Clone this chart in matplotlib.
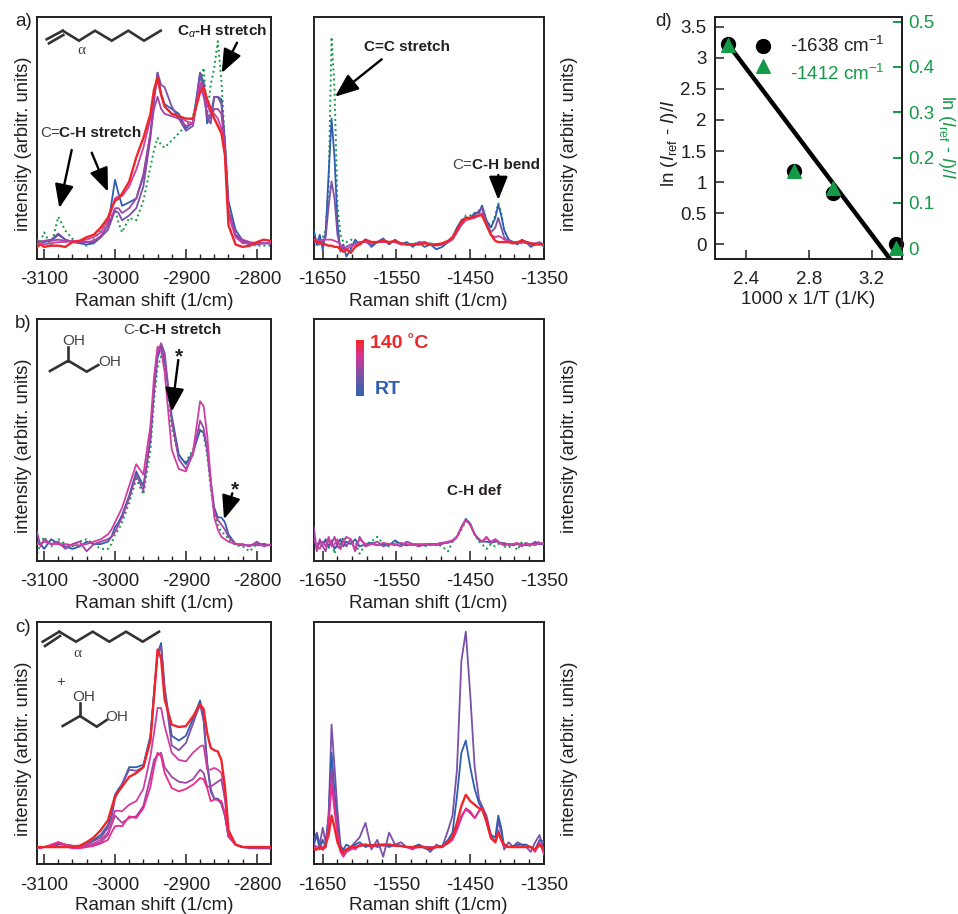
import matplotlib
matplotlib.use("Agg")
import matplotlib.pyplot as plt
from matplotlib.lines import Line2D
from matplotlib.patches import FancyArrowPatch, Rectangle

W, H = 958, 914
plt.rcParams["font.family"] = ["Liberation Sans", "DejaVu Sans"]
plt.rcParams["axes.unicode_minus"] = False
plt.rcParams["mathtext.fontset"] = "custom"
plt.rcParams["mathtext.rm"] = "Liberation Sans"
plt.rcParams["mathtext.it"] = "Liberation Sans:italic"
plt.rcParams["mathtext.bf"] = "Liberation Sans:bold"

# ── spectra (intensity = % of panel height) ──────────────────────────────────
ch_x = [-3110, -3105, -3100, -3090, -3080, -3070, -3060, -3050, -3040, -3030, -3020, -3010, -3005, -3000, -2995,
        -2990, -2980, -2970, -2960, -2950, -2945, -2940, -2935, -2930, -2920, -2910, -2900, -2890, -2880, -2875,
        -2870, -2865, -2860, -2855, -2850, -2845, -2840, -2830, -2820, -2810, -2800, -2790, -2780]

a_l_green = [5.5, 7, 11, 5.5, 17.5, 11.7, 8.3, 7, 5.5, 8, 11.7, 14.5, 18, 20.7, 15, 11, 17, 16, 24, 38, 45, 50, 47, 46,
             49, 52, 55, 59, 72, 79, 60, 72, 79, 90, 74, 48, 21, 10, 7.6, 6, 5.5, 5.5, 5.5]
a_l_blue = [6.5, 7, 7, 7.5, 10, 8, 7, 6.5, 6, 6.5, 9, 14, 23, 32.7, 27, 22, 23.4, 25, 34, 52, 66, 77, 68, 64,
            62, 60, 54, 56.5, 77, 73, 56, 60, 67, 67, 66, 49, 24, 12, 7.6, 6.5, 6.5, 6.5, 6.5]
a_l_purple = [8, 7, 7.5, 8, 10.5, 8, 7, 7.5, 7, 7, 9, 12, 16, 20, 19, 16, 18, 21, 30, 50, 65, 77, 72, 71,
              63, 58, 53, 55, 77, 70, 58, 56, 67, 67, 64, 47, 20, 10, 7, 6, 6, 6.5, 6.5]
a_l_violet = [7.5, 7, 7.5, 7.5, 8, 7.5, 7, 7, 7, 7.5, 9.5, 14, 17, 21, 21, 19, 21, 25, 35, 52, 62, 67, 62, 60,
              59, 58, 55, 56, 72, 67, 60, 58, 62, 62, 60, 46, 20, 10, 8, 7, 6.5, 6.5, 6.5]
a_l_magenta = [6, 7, 6, 6.5, 7, 7, 7.5, 7.5, 8, 9, 11, 16, 20, 25, 26, 26, 30, 37, 46, 58, 68, 74, 68, 63,
               60, 59, 57, 56, 73, 70, 64, 60, 60, 58, 54, 44, 18, 9, 6.5, 6.5, 6.5, 6.5, 6.5]
a_l_red = [5, 6, 5, 5.5, 5.5, 5, 7, 7.5, 9, 10, 13, 17, 21, 24, 25, 27, 32, 42, 50, 60, 70, 75, 68, 63,
           60, 59, 58, 58, 69, 71, 66, 62, 58, 55, 52, 43, 14, 6, 5, 5.5, 7, 8, 7.5]

b_l_green = [3, 7, 10, 6, 9, 7, 6, 8, 9, 7, 5, 5, 7, 11, 13, 16, 24, 34, 27.5, 46, 66, 80, 84.5, 82,
             55, 43, 41, 46, 55, 52, 44, 30, 20, 15, 12, 11, 9, 6.5, 6, 4, 7, 7, 6.5]
b_l_blue = [8, 7, 5, 9, 7, 6, 5, 6, 8, 7, 7, 8, 10, 14, 16, 19, 27, 37, 31, 50, 70, 84, 88.6, 83,
            60, 44, 40, 45, 54, 53, 46, 33, 22, 18, 18, 16, 11, 7, 6.5, 6.5, 7, 7, 6.5]
b_l_purple = [12, 6, 9, 7, 8, 5, 7, 8, 4, 7, 8, 9, 10, 12, 15, 18, 26, 35.7, 29, 52, 72, 86, 90, 86,
              58, 42, 38, 44, 58, 55, 46, 32, 20, 17, 15, 13, 10, 7, 7, 6, 8, 6, 7]
b_l_magenta = [7, 7, 8, 7, 7, 7, 6.5, 6.5, 7, 8, 9, 11, 13, 16, 19, 22, 31, 40, 35.7, 56, 76, 88.6, 87, 78,
               46, 38, 37, 45, 66, 64, 52, 34, 18, 13, 10, 9, 8, 7, 6.5, 6.5, 6.5, 6.5, 6.5]

c_l_blue = [7, 7, 7, 7, 8, 8, 7.5, 7.5, 8, 10, 12, 16, 20, 28.6, 31, 33, 40, 40, 41, 53, 71, 87, 91.3, 73,
            53, 51, 53, 60, 67.6, 60, 42, 30, 27, 27, 25, 20, 11.4, 8, 7, 7, 7, 7, 7]
c_l_purple = [7, 7, 7, 7.5, 8.5, 8, 7.5, 7.5, 8, 9.5, 11, 15, 19, 27, 30, 33, 39, 38.5, 40, 52, 70, 86, 90, 72,
              49, 47, 50, 58, 66, 59, 41, 31, 27, 26.5, 25, 20, 11.4, 8, 7, 6.5, 6.5, 6.5, 6.5]
c_l_magenta = [7, 7, 7, 7.5, 9, 8, 7.5, 7, 7.5, 8.5, 10, 13, 17, 22, 22, 21.8, 24.5, 26, 31, 44.5, 54, 64.5, 64.5, 57,
               46, 43, 42.4, 46, 48.6, 49, 39, 39, 39.7, 39, 37.6, 30.7, 13.5, 8, 7, 7, 7, 7, 7]
c_l_violet = [6.5, 7, 7, 7.5, 9, 8, 7, 7, 7.5, 8, 9, 12, 16, 20, 18.5, 17, 19, 19.7, 24, 36, 43, 45, 46, 40,
              36, 34, 33.5, 35, 39, 37.6, 32, 32, 33, 34, 35, 26.6, 12.8, 8, 7, 7, 6.5, 6.5, 6.5]
c_l_pink = [7, 6.5, 7, 8, 9, 7.5, 6.5, 6.5, 7, 7.5, 8.5, 10, 13, 15.6, 15.8, 15.6, 19.7, 19, 23, 32, 40, 46, 44.5, 37.6,
            31.4, 30, 31, 32.8, 35.5, 35, 31.4, 26, 26.6, 26.6, 26, 21, 11.4, 8, 7, 7, 7, 7, 7]
c_l_red = [7, 7, 7, 7, 7, 7, 7, 7.5, 9, 11, 14, 18, 23, 28, 30, 32, 36, 37.6, 40, 51, 69, 88.6, 85, 68,
           57.6, 56.6, 57, 61, 66, 64, 54, 48, 47, 46.5, 43, 32, 14, 8, 7, 7, 7, 7, 7]

fp_x = [-1662, -1658, -1654, -1650, -1646, -1642, -1638, -1634, -1630, -1626, -1622, -1618, -1612, -1606, -1600,
        -1592, -1584, -1576, -1568, -1560, -1552, -1544, -1536, -1528, -1520, -1512, -1504, -1496, -1488, -1480,
        -1474, -1468, -1462, -1456, -1450, -1444, -1438, -1434, -1428, -1422, -1416, -1412, -1408, -1404, -1398,
        -1392, -1386, -1380, -1374, -1368, -1362, -1356, -1350]

a_r_green = [6, 5, 8, 9, 12, 30, 91.7, 70, 22, 10, 7, 7, 8, 7, 6.5, 7, 7, 7, 7.5, 7, 7, 6.5, 6.5, 6, 7, 7, 6.5, 6, 6, 7,
             8, 11, 15, 18, 18, 19, 20, 22, 16, 13, 18, 23, 19, 12, 8, 7, 7, 6.5, 7, 6.5, 6.5, 6.5, 6.5]
a_r_blue = [12, 6, 10, 4, 11, 35, 58, 42, 15, 3, 6, 1, 4, 8, 6, 8, 5, 7, 8.5, 6, 8, 6, 7, 5, 7, 5, 6, 4, 5, 7,
            9, 13, 16, 17, 17, 19, 19, 22, 16, 13, 17, 22.5, 18, 12, 8, 7, 6, 8, 7, 5, 6, 7, 5]
a_r_purple = [7, 7, 6, 7, 9, 22, 32, 25, 10, 5, 4, 5, 6, 6, 7, 7, 6, 7, 7.5, 7, 7, 6.5, 6, 6, 6.5, 7, 6, 5.5, 6, 7,
              8.5, 12, 16, 17, 17, 18, 20, 21, 15, 11, 13, 17, 13, 9, 7, 6.5, 6.5, 7, 6.5, 6, 6, 6.5, 6]
a_r_magenta = [8, 8, 7, 8, 8, 8, 8, 7.5, 7, 6, 5, 4, 5, 6, 7, 7, 7, 7, 7, 7, 7, 6, 6, 6, 6.5, 7, 6, 6, 6, 7,
               8, 11, 14, 16, 16.5, 17, 18, 19, 14, 10, 9, 9.5, 9, 8, 7.5, 7, 7, 7, 7, 6.5, 6.5, 6.5, 6]
a_r_red = [8, 7, 7, 6, 6, 5.5, 5.5, 5, 5, 4, 3, 4, 2.5, 5, 6, 8, 7, 7, 7.5, 7, 7.5, 6.5, 6, 6, 6, 6.5, 6, 6, 6.5, 7.5,
           9, 12, 15, 17, 17, 17.5, 18, 18, 14, 10, 7.5, 7, 7, 7, 7, 6.5, 7, 7.5, 7, 6.5, 6, 6, 6]

b_r_green = [7, 8, 6, 7, 8, 5, 9, 3, 8, 7, 10, 9, 7, 8, 3, 7, 8, 10, 7, 6, 8, 7, 6.5, 7, 7, 6, 7, 7, 6, 4,
             8, 10, 13, 16.5, 15, 11, 8, 7, 5, 7, 6, 7, 8, 6, 5.5, 7, 4.5, 8, 7, 6, 7, 8, 7]
b_r_blue = [10, 5, 8, 7, 9, 6, 8, 5, 7, 9, 6, 8, 7, 9, 6, 7, 7.5, 6.5, 7, 6.5, 8.5, 7, 6.5, 7, 6.5, 6.5, 7, 7, 7.5, 7.5,
            8.5, 10, 14, 17.4, 15.5, 11, 8.5, 8, 8, 7.5, 8, 8, 7, 7, 7, 6.5, 7, 7, 6.5, 7, 7.5, 7, 7]
b_r_purple = [14, 4, 9, 6, 4, 9, 7, 10, 6, 5, 9, 6, 9, 4, 10, 6, 7, 8, 6, 7, 7, 6, 8, 7, 6, 7, 7, 6.5, 7, 8,
              8, 10, 14, 17, 15, 11, 9, 8, 10, 7.5, 9, 8, 7, 7.5, 6.5, 7, 7, 6, 7.5, 6.5, 8, 7, 7.5]
b_r_magenta = [9, 6, 5, 8, 6, 10, 6, 7, 9, 5, 8, 10, 9, 5, 9, 7, 7, 6.5, 7.5, 7, 6.5, 7.5, 7, 6.5, 7, 7, 6.5, 7, 7.5, 8,
               8.5, 10, 13.5, 17, 15, 11, 9, 8, 9.5, 8, 9, 8, 7, 6.5, 7, 7, 7.5, 6.5, 7, 7, 6.5, 7.5, 7]

c_r_purple = [10, 13, 8, 15, 9, 20, 57.6, 40, 22, 8, 5, 6, 7, 9, 11, 17, 6, 10, 3, 13, 8, 9, 7, 6, 8, 7, 5, 8, 7, 14,
              20, 39, 84, 96, 70, 40, 26.6, 24, 20, 12, 9, 18, 13, 6, 9, 7, 9, 8, 7, 5, 9, 12, 5]
c_r_blue = [8, 12, 6, 10, 7, 20, 46, 30, 16, 7, 6, 8, 7, 8, 9, 7, 8, 7, 8, 7, 8, 7.5, 7, 7, 8, 6.5, 6, 7, 7.5, 10,
            13, 28, 46, 51, 40, 31, 25, 23, 18, 12, 11, 20, 15, 7, 7, 7.5, 8, 8, 8, 7, 6, 10, 9]
c_r_magenta = [8, 7, 7, 7, 7, 18, 39, 26, 14, 6, 4, 5, 6, 7, 7.5, 8, 7.5, 7.5, 8, 8, 8, 7.5, 7, 7, 7, 7, 7, 7, 7.5, 9,
               10.5, 15, 20, 22.5, 21, 19, 22, 23, 18, 11, 9, 14, 10, 7, 7, 7, 7.5, 7, 7, 7, 6, 8, 6]
c_r_pink = [7, 6, 7, 6, 7, 16, 33, 22, 12, 5, 3, 5, 7, 6, 8, 8, 7, 8, 7.5, 8, 7.5, 7.5, 7, 6.5, 7, 7, 6.5, 7, 7.5, 8.5,
            10, 14, 19, 23, 21.8, 19, 21.8, 23, 17, 10.5, 9, 13, 10, 7, 7, 7, 7, 7, 7.5, 7, 5, 9, 4]
c_r_red = [6, 6, 7, 6, 8, 12, 20, 15, 9, 6, 5, 6, 7, 7, 7.5, 8, 7.5, 8, 8, 8, 7.5, 7.5, 7, 7, 7, 7, 6.5, 7, 7, 9,
           11.4, 17, 24, 28.6, 26, 24.5, 23, 22.7, 18, 11, 9, 13, 10, 8, 7, 7, 7, 7, 7, 7, 6, 8, 6]

# tick positions of the spectra
ch_ticks = [-3100, -3000, -2900, -2800]
fp_ticks = [-1650, -1550, -1450, -1350]
ch_minor = list(range(-3100, -2780, 20))
fp_minor = list(range(-1650, -1349, 20))

# panel d
inv_t = [2.285, 2.708, 2.956, 3.353]
ln_1638 = [3.22, 1.18, 0.82, 0.0]
ln_1412 = [0.449, 0.171, 0.133, 0.0]
fit_x = [2.285, 3.317]
fit_y = [3.22, -0.236]
key_x = 2.51
key_1638 = 3.19
key_1412 = 2.88

GREEN, BLUE, PURPLE, VIOLET = "#159a48", "#2f5db0", "#7a50a8", "#a045a6"
MAGENTA, PINK, RED, INK = "#cf3fa2", "#ec2a8a", "#ee2529", "#231f20"
temp_scale = ["#ee2a2a", "#e92a4a", "#e22e66", "#d93380", "#cd3791", "#bd3c98", "#a8429f", "#9447a3",
              "#8250a8", "#7054aa", "#5f58ad", "#5059ae", "#445cae", "#3c5eb0"]


def px_ax(left, top, right, bottom):
    return fig.add_axes([left / W, 1 - bottom / H, (right - left) / W, (bottom - top) / H])


def say(x, y, s, **kw):
    kw.setdefault("ha", "left")
    kw.setdefault("va", "center")
    kw.setdefault("color", INK)
    kw.setdefault("fontsize", 11)
    fig.text(x / W, 1 - y / H, s, **kw)


def arrow(x0, y0, x1, y1):
    fig.add_artist(FancyArrowPatch((x0 / W, 1 - y0 / H), (x1 / W, 1 - y1 / H), transform=fig.transFigure,
                                   arrowstyle="-|>,head_length=0.9,head_width=0.36", mutation_scale=16,
                                   lw=1.7, color="k", shrinkA=0, shrinkB=0))


def bonds(pts, lw=1.9):
    xs = [p[0] for p in pts]
    ys = [1 - p[1] / H for p in pts]
    fig.add_artist(Line2D([x / W for x in xs], ys, color="#333333", lw=lw, transform=fig.transFigure,
                          solid_joinstyle="miter"))


def spectrum(left, top, xlim, ticks, minor, side, curves):
    ax = px_ax(left, top, left + (234 if side == "l" else 230.5), top + 242)
    for x, y, c in curves:
        if c == GREEN:
            ax.plot(x, y, color=c, lw=1.4, ls=(0, (1, 1.6)), zorder=2)
        else:
            ax.plot(x, y, color=c, lw=1.7 if c == RED else 1.3, zorder=3)
    ax.set_xlim(*xlim)
    ax.set_ylim(0, 100)
    ax.set_yticks([])
    ax.set_xticks(ticks, [str(t) for t in ticks])
    ax.set_xticks(minor, minor=True)
    ax.tick_params(axis="x", which="major", direction="in", length=7, width=1.1, pad=9, labelsize=13.5,
                   labelcolor=INK, color=INK)
    ax.tick_params(axis="x", which="minor", direction="in", length=3.5, width=1.0, color=INK)
    for s in ax.spines.values():
        s.set_linewidth(1.4)
        s.set_color(INK)
    say(left + (117 if side == "l" else 115), top + 284, "Raman shift (1/cm)", ha="center", fontsize=13.5)
    ylab_x = 23.5 if side == "l" else 569
    say(ylab_x, top + 127, "intensity (arbitr. units)", ha="center", rotation=90, fontsize=13.2)
    return ax


fig = plt.figure(figsize=(W / 100, H / 100), dpi=100)

L_LIM, R_LIM = (-3110, -2780), (-1662.5, -1350)
spectrum(37, 17, L_LIM, ch_ticks, ch_minor, "l",
         [(ch_x, a_l_green, GREEN), (ch_x, a_l_blue, BLUE), (ch_x, a_l_purple, PURPLE),
          (ch_x, a_l_violet, VIOLET), (ch_x, a_l_magenta, MAGENTA), (ch_x, a_l_red, RED)])
spectrum(313.5, 17, R_LIM, fp_ticks, fp_minor, "r",
         [(fp_x, a_r_green, GREEN), (fp_x, a_r_blue, BLUE), (fp_x, a_r_purple, PURPLE),
          (fp_x, a_r_magenta, MAGENTA), (fp_x, a_r_red, RED)])
spectrum(37, 319, L_LIM, ch_ticks, ch_minor, "l",
         [(ch_x, b_l_green, GREEN), (ch_x, b_l_blue, BLUE), (ch_x, b_l_purple, VIOLET),
          (ch_x, b_l_magenta, MAGENTA)])
spectrum(313.5, 319, R_LIM, fp_ticks, fp_minor, "r",
         [(fp_x, b_r_green, GREEN), (fp_x, b_r_blue, BLUE), (fp_x, b_r_purple, VIOLET),
          (fp_x, b_r_magenta, MAGENTA)])
spectrum(37, 622, L_LIM, ch_ticks, ch_minor, "l",
         [(ch_x, c_l_blue, BLUE), (ch_x, c_l_purple, PURPLE), (ch_x, c_l_violet, VIOLET),
          (ch_x, c_l_magenta, MAGENTA), (ch_x, c_l_pink, PINK), (ch_x, c_l_red, RED)])
spectrum(313.5, 622, R_LIM, fp_ticks, fp_minor, "r",
         [(fp_x, c_r_purple, PURPLE), (fp_x, c_r_blue, BLUE), (fp_x, c_r_magenta, VIOLET),
          (fp_x, c_r_pink, PINK), (fp_x, c_r_red, RED)])

# ── panel d ──────────────────────────────────────────────────────────────────
axd = px_ax(715, 17, 901.7, 259)
axd.plot(fit_x, fit_y, color="k", lw=3.2, zorder=3)
axd.scatter(inv_t, ln_1638, s=100, color="k", zorder=2, clip_on=False)
axd.scatter([key_x], [key_1638], s=100, color="k", zorder=2)
axd.set_xlim(2.2025, 3.391)
axd.set_ylim(-0.236, 3.656)
axd.set_xticks([2.4, 2.8, 3.2], ["2.4", "2.8", "3.2"])
axd.set_yticks([0, 0.5, 1, 1.5, 2, 2.5, 3, 3.5], ["0", "0.5", "1", "1.5", "2", "2.5", "3", "3.5"])
axd.tick_params(axis="x", direction="in", length=6.5, width=1.1, labelsize=13.5, color=INK, labelcolor=INK, pad=9)
axd.tick_params(axis="y", direction="in", length=6.5, width=1.1, labelsize=13.5, color=INK, labelcolor=INK, pad=6)
axd2 = axd.twinx()
axd2.scatter(inv_t, ln_1412, s=95, color=GREEN, marker="^", zorder=4, clip_on=False)
axd2.set_ylim(-0.0236, 0.51)
axd2.set_yticks([0, 0.1, 0.2, 0.3, 0.4, 0.5], ["0", "0.1", "0.2", "0.3", "0.4", "0.5"])
axd2.tick_params(direction="in", length=6.5, width=1.4, labelsize=13.5, color=GREEN, labelcolor=GREEN, pad=5)
axd2.scatter([key_x], [key_1412 * 0.51 / 3.656], s=95, color=GREEN, marker="^", zorder=4)
for a in (axd, axd2):
    for s in a.spines.values():
        s.set_linewidth(1.4)
        s.set_color(INK)
say(790, 46, "-1638 cm$^{-1}$", fontsize=13.5)
say(790, 74, "-1412 cm$^{-1}$", fontsize=13.5, color=GREEN)
say(808, 300, "1000 x 1/T (1/K)", ha="center", fontsize=13.5)
LN_LABEL = r"ln ($\mathit{I}_{\mathrm{ref}}$ - $\mathit{I}$)/$\mathit{I}$"
say(669, 143, LN_LABEL, ha="center", rotation=90, fontsize=13.5)
say(947, 137, LN_LABEL, ha="center", rotation=270, fontsize=13, color=GREEN)

# ── panel letters ────────────────────────────────────────────────────────────
for x, y, s in [(15, 22, "a)"), (15, 324, "b)"), (15, 627, "c)"), (655, 22, "d)")]:
    say(x, y, s, fontsize=13.5)

# ── band labels ──────────────────────────────────────────────────────────────
say(221.7, 31, r"C$_{\alpha}$-H stretch", ha="center", fontweight="bold")
say(40, 133, "C=", color="#444444")
say(59, 133, "C-H stretch", fontweight="bold")
say(364, 47, "C=C stretch", fontweight="bold")
say(452.3, 165, "C=", color="#444444")
say(471.7, 165, "C-H bend", fontweight="bold")
say(123.3, 330, "C-", color="#444444")
say(139.3, 330, "C-H stretch", fontweight="bold")
say(474, 491, "C-H def", ha="center", fontweight="bold")
say(179, 357, "*", ha="center", fontsize=15, fontweight="bold")
say(235, 490, "*", ha="center", fontsize=15, fontweight="bold")

arrow(71.7, 150, 59.3, 208)
arrow(91.7, 152.7, 108, 191.7)
arrow(237, 42.7, 221.7, 73)
arrow(381.7, 59.3, 335, 96.7)
arrow(498.3, 175, 498.3, 200)
arrow(178.3, 360, 171.7, 411.7)
arrow(232.3, 493.3, 224, 519.3)

# temperature key
step = (396 - 340) / len(temp_scale)
for i, c in enumerate(temp_scale):
    fig.add_artist(Rectangle((356 / W, 1 - (340 + (i + 1) * step - 0.3) / H), 8 / W, (step - 0.6) / H,
                             transform=fig.transFigure, color=c, lw=0))
say(370, 344, "140 ˚C", color=RED, fontsize=14, fontweight="bold")
say(375, 389, "RT", color=BLUE, fontsize=14, fontweight="bold")

# ── molecule sketches ────────────────────────────────────────────────────────
bonds([(46.7, 39.3), (62.7, 30.7)])
bonds([(49, 43.3), (63.3, 35)])
bonds([(62.7, 30.7), (79, 40.7), (95, 30.7), (111.7, 40.7), (128.3, 30.7), (144, 40.7), (160.7, 30.7)])
say(81.7, 50.7, "α", ha="center", color="#444444", fontsize=11, family="Liberation Serif")

bonds([(50, 371), (68.3, 360.7), (86.7, 371.7), (98.3, 365)])
bonds([(68.3, 360.7), (68.3, 347.3)])
say(73.3, 340.7, "OH", ha="center", color="#444444", fontsize=11)
say(109.3, 362.3, "OH", ha="center", color="#444444", fontsize=11)

bonds([(42.7, 641.7), (59.3, 631.7)])
bonds([(45, 646), (60, 636)])
bonds([(59.3, 631.7), (76, 641.7), (92.7, 631.7), (109.3, 641.7), (126, 631.7), (142.7, 641.7), (159, 631.7)])
say(77.7, 653.3, "α", ha="center", color="#444444", fontsize=11, family="Liberation Serif")
say(61, 681.7, "+", ha="center", color="#444444", fontsize=11)
bonds([(62.7, 726), (80, 716), (96.7, 726.7), (106.7, 720)])
bonds([(80, 716), (80, 703.3)])
say(83.3, 696.7, "OH", ha="center", color="#444444", fontsize=11)
say(116.7, 716.7, "OH", ha="center", color="#444444", fontsize=11)

fig.savefig("out.png", dpi=100)
